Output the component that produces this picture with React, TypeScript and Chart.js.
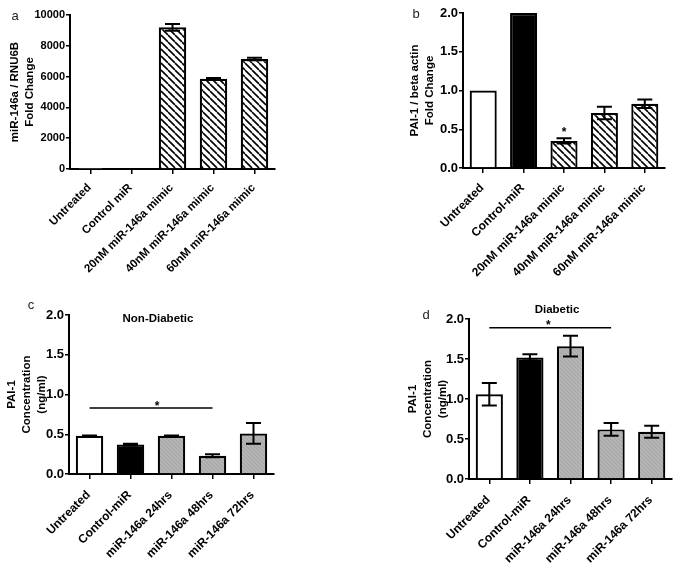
import React, { useEffect, useRef } from 'react';
import { Chart, registerables } from 'chart.js';
Chart.register(...registerables);

const catsA = ['Untreated', 'Control miR', '20nM miR-146a mimic', '40nM miR-146a mimic', '60nM miR-146a mimic'];
const valsA = [1, 1, 9200, 5860, 7140];
const errsA = [0, 0, 220, 50, 80];

const catsB = ['Untreated', 'Control-miR', '20nM miR-146a mimic', '40nM miR-146a mimic', '60nM miR-146a mimic'];
const valsB = [1.0, 2.0, 0.35, 0.71, 0.83];
const errsB = [0, 0, 0.035, 0.08, 0.055];

const catsCD = ['Untreated', 'Control-miR', 'miR-146a 24hrs', 'miR-146a 48hrs', 'miR-146a 72hrs'];
const valsC = [0.48, 0.37, 0.48, 0.23, 0.51];
const errsC = [0.005, 0.01, 0.003, 0.02, 0.13];
const valsD = [1.06, 1.52, 1.66, 0.62, 0.59];
const errsD = [0.14, 0.04, 0.13, 0.08, 0.075];

const fillsAB = ['white', 'black', 'hatch', 'hatch', 'hatch'];
const fillsCD = ['white', 'black', 'gray', 'gray', 'gray'];

const titleA = ['miR-146a / RNU6B', 'Fold Change'];
const titleB = ['PAI-1 / beta actin', 'Fold Change'];
const titleCD = ['PAI-1', 'Concentration', '(ng/ml)'];

const FONT = '"Liberation Sans", Arial, sans-serif';

function makeHatch(): CanvasPattern | string {
  const c = document.createElement('canvas');
  c.width = 7; c.height = 7;
  const g = c.getContext('2d');
  if (!g) return '#fff';
  g.fillStyle = '#fff';
  g.fillRect(0, 0, 7, 7);
  g.strokeStyle = '#000';
  g.lineWidth = 1.6;
  g.beginPath();
  for (let k = -1; k <= 1; k++) {
    g.moveTo(0 + k * 7, 0);
    g.lineTo(7 + k * 7, 7);
  }
  g.stroke();
  return g.createPattern(c, 'repeat') || '#fff';
}

function makeGray(): CanvasPattern | string {
  const c = document.createElement('canvas');
  c.width = 4; c.height = 4;
  const g = c.getContext('2d');
  if (!g) return '#aaa';
  g.fillStyle = '#acacac';
  g.fillRect(0, 0, 4, 4);
  g.strokeStyle = '#bcbcbc';
  g.lineWidth = 1;
  g.beginPath();
  for (let k = -1; k <= 1; k++) {
    g.moveTo(0 + k * 4, 0);
    g.lineTo(4 + k * 4, 4);
  }
  g.stroke();
  return g.createPattern(c, 'repeat') || '#aaa';
}

type PanelProps = {
  left: number; top: number; w: number; h: number;
  area: { l: number; r: number; t: number; b: number };
  labels: string[]; vals: number[]; errs: number[]; fills: string[];
  yMax: number; yStep: number; decimals: number;
  yTitle: string[]; titlePad: number;
  yFont: number; xFont: number; xPad: number;
  letter: string; letterPos: [number, number];
  heading?: string; headingPos?: [number, number];
  sig?: { y: number; from: number; to: number; frac: number };
  starOver?: number;
};

function Panel(p: PanelProps) {
  const ref = useRef<HTMLCanvasElement>(null);
  useEffect(() => {
    if (!ref.current) return;
    const hatch = makeHatch();
    const gray = makeGray();
    const bg = p.fills.map((f) => (f === 'white' ? '#ffffff' : f === 'black' ? '#000000' : f === 'hatch' ? hatch : gray));

    const overlay = {
      id: 'overlay',
      afterDatasetsDraw(chart: any) {
        const ctx = chart.ctx;
        const ys = chart.scales.y;
        const meta = chart.getDatasetMeta(0);
        ctx.save();
        ctx.strokeStyle = '#000';
        ctx.lineWidth = 2;
        p.vals.forEach((v, i) => {
          const e = p.errs[i];
          if (!e) return;
          const x = meta.data[i].x;
          const y1 = ys.getPixelForValue(v + e);
          const y2 = ys.getPixelForValue(v - e);
          ctx.beginPath();
          ctx.moveTo(x, y1); ctx.lineTo(x, y2);
          ctx.moveTo(x - 7.5, y1); ctx.lineTo(x + 7.5, y1);
          ctx.moveTo(x - 7.5, y2); ctx.lineTo(x + 7.5, y2);
          ctx.stroke();
        });
        ctx.restore();
      },
      afterDraw(chart: any) {
        const ctx = chart.ctx;
        const ys = chart.scales.y;
        const xs = chart.scales.x;
        ctx.save();
        ctx.fillStyle = '#000';
        if (p.sig) {
          const x0 = xs.getPixelForValue(p.sig.from);
          const x1 = xs.getPixelForValue(p.sig.to);
          const y = ys.getPixelForValue(p.sig.y);
          ctx.strokeStyle = '#000';
          ctx.lineWidth = 1.5;
          ctx.beginPath();
          ctx.moveTo(x0, y); ctx.lineTo(x1, y);
          ctx.stroke();
          ctx.font = `bold 12px ${FONT}`;
          ctx.textAlign = 'center';
          ctx.textBaseline = 'alphabetic';
          ctx.fillText('*', x0 + (x1 - x0) * p.sig.frac, y + 1.6);
        }
        if (p.starOver !== undefined) {
          const i = p.starOver;
          const x = xs.getPixelForValue(i);
          const yTop = ys.getPixelForValue(p.vals[i] + p.errs[i]);
          ctx.font = `bold 12px ${FONT}`;
          ctx.textAlign = 'center';
          ctx.textBaseline = 'alphabetic';
          ctx.fillText('*', x, yTop - 2.4);
        }
        if (p.heading && p.headingPos) {
          ctx.font = `bold 11.5px ${FONT}`;
          ctx.textAlign = 'center';
          ctx.textBaseline = 'middle';
          ctx.fillText(p.heading, p.headingPos[0], p.headingPos[1]);
        }
        ctx.fillStyle = '#222';
        ctx.font = `13px ${FONT}`;
        ctx.textAlign = 'center';
        ctx.textBaseline = 'middle';
        ctx.fillText(p.letter, p.letterPos[0], p.letterPos[1]);
        ctx.restore();
      },
    };

    const chart = new Chart(ref.current, {
      type: 'bar',
      data: {
        labels: p.labels,
        datasets: [{
          data: p.vals,
          backgroundColor: bg as any,
          borderColor: '#000',
          borderWidth: 2.2,
          borderSkipped: 'bottom',
          barPercentage: 0.67,
          categoryPercentage: 1,
        }],
      },
      options: {
        animation: false,
        responsive: false,
        events: [],
        layout: { padding: { left: 0, right: p.w - p.area.r, top: p.area.t, bottom: 0 } },
        plugins: { legend: { display: false }, tooltip: { enabled: false }, title: { display: false } },
        scales: {
          x: {
            type: 'category',
            grid: { display: true, drawOnChartArea: false, drawTicks: true, tickLength: 5, color: '#000', lineWidth: 1.5, offset: false },
            border: { display: true, color: '#000', width: 2 },
            ticks: {
              autoSkip: false, minRotation: 45, maxRotation: 45, padding: p.xPad, labelOffset: -1,
              color: '#000', font: { family: FONT, size: p.xFont, weight: 'bold' },
            },
            afterFit: (s: any) => { s.height = p.h - p.area.b; s.paddingLeft = 0; s.paddingRight = 0; },
          },
          y: {
            type: 'linear',
            min: 0, max: p.yMax,
            grid: { display: true, drawOnChartArea: false, drawTicks: true, tickLength: 4, color: '#000', lineWidth: 1.5 },
            border: { display: true, color: '#000', width: 2 },
            ticks: {
              stepSize: p.yStep, padding: 1, color: '#000',
              font: { family: FONT, size: p.yFont, weight: 'bold' },
              callback: (v: any) => Number(v).toFixed(p.decimals),
            },
            title: {
              display: true, text: p.yTitle, color: '#000',
              font: { family: FONT, size: 11.5, weight: 'bold', lineHeight: 15 / 11.5 },
              padding: { top: p.titlePad, bottom: 0 },
            },
            afterFit: (s: any) => { s.width = p.area.l; s.paddingTop = 0; s.paddingBottom = 0; },
          },
        },
      },
      plugins: [overlay],
    } as any);
    return () => chart.destroy();
  }, []);
  return (
    <canvas
      ref={ref}
      width={p.w}
      height={p.h}
      style={{ position: 'absolute', left: p.left, top: p.top, width: p.w, height: p.h }}
    />
  );
}

export default function App() {
  return (
    <div style={{ position: 'absolute', left: 0, top: 0, width: 683, height: 563, background: '#fff', overflow: 'hidden' }}>
      <Panel left={0} top={0} w={340} h={290} area={{ l: 70, r: 275, t: 15, b: 169 }}
        labels={catsA} vals={valsA} errs={errsA} fills={fillsAB}
        yMax={10000} yStep={2000} decimals={0} yTitle={titleA} titlePad={7.5}
        yFont={11} xFont={11.5} xPad={7}
        letter="a" letterPos={[15, 16]} />
      <Panel left={340} top={0} w={343} h={290} area={{ l: 123, r: 325, t: 13, b: 168 }}
        labels={catsB} vals={valsB} errs={errsB} fills={fillsAB}
        yMax={2} yStep={0.5} decimals={1} yTitle={titleB} titlePad={67.5}
        yFont={13} xFont={12} xPad={8}
        letter="b" letterPos={[76, 14]} starOver={2} />
      <Panel left={0} top={290} w={340} h={273} area={{ l: 69, r: 274, t: 25, b: 184 }}
        labels={catsCD} vals={valsC} errs={errsC} fills={fillsCD}
        yMax={2} yStep={0.5} decimals={1} yTitle={titleCD} titlePad={4.2}
        yFont={13} xFont={12} xPad={9}
        letter="c" letterPos={[31, 15.5]} heading="Non-Diabetic" headingPos={[158, 29]}
        sig={{ y: 0.83, from: 0, to: 3, frac: 0.55 }} />
      <Panel left={340} top={290} w={343} h={273} area={{ l: 129, r: 332, t: 29, b: 189 }}
        labels={catsCD} vals={valsD} errs={errsD} fills={fillsCD}
        yMax={2} yStep={0.5} decimals={1} yTitle={titleCD} titlePad={65.8}
        yFont={13} xFont={12} xPad={9}
        letter="d" letterPos={[86, 25]} heading="Diabetic" headingPos={[217, 20]}
        sig={{ y: 1.89, from: 0, to: 3, frac: 0.485 }} />
    </div>
  );
}
